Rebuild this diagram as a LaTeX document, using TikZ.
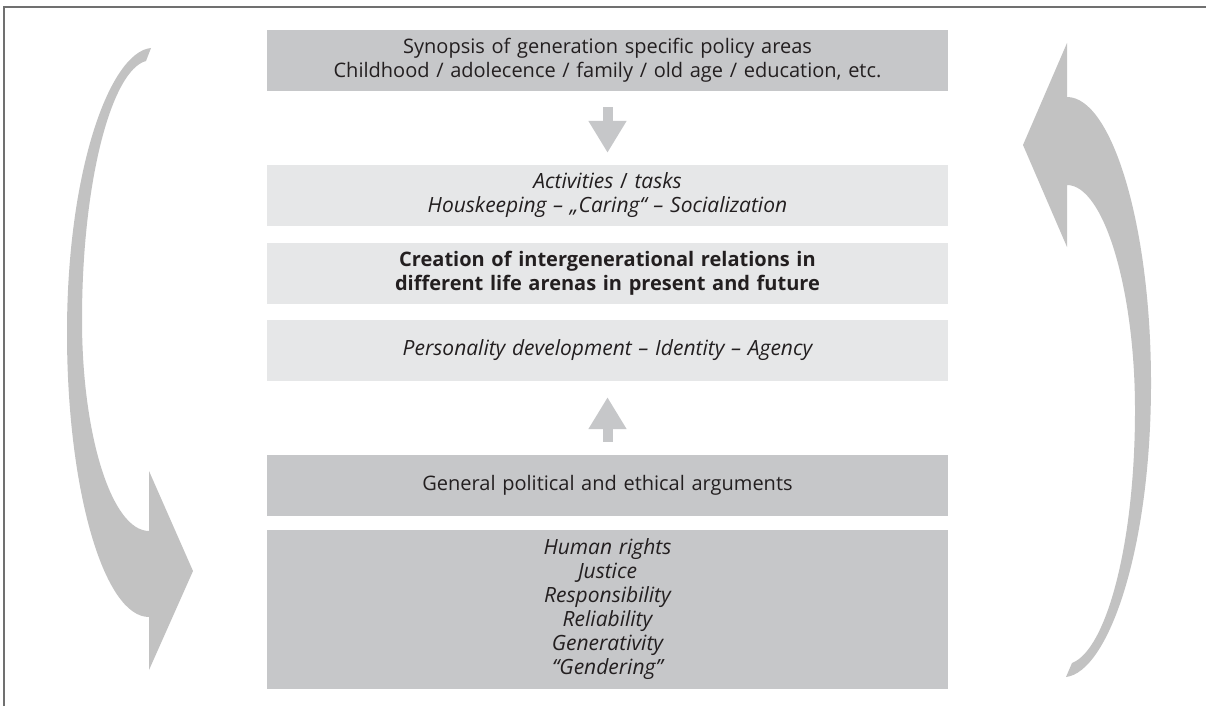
\documentclass[tikz,border=0pt]{standalone}
\usepackage{fontspec}
\setmainfont{Open Sans}
\usetikzlibrary{arrows.meta,calc}
\definecolor{darkbox}{HTML}{C6C7C9}
\definecolor{lightbox}{HTML}{E6E7E8}
\definecolor{arrowgray}{HTML}{C2C2C2}
\definecolor{smallarrow}{HTML}{C6C7C9}
\definecolor{txt}{HTML}{231F20}
\definecolor{framegray}{HTML}{707070}
\newcommand{\itx}{\fontsize{21}{24}\selectfont\itshape}
\begin{document}
\begin{tikzpicture}[x=1pt,y=-1pt,
  box/.style={inner sep=0pt, minimum width=681pt, text width=681pt, align=center,
    font=\fontsize{20}{24}\selectfont, text=txt},
  darkb/.style={box, fill=darkbox, minimum height=61pt},
  lightb/.style={box, fill=lightbox, minimum height=61pt},
  blockarrow/.style={smallarrow, line width=10pt, -{Triangle[length=32pt,width=36pt]}}]
\useasboundingbox (0,0) rectangle (1206,706);
\fill[white] (0,0) rectangle (1206,706);
% frame
\draw[framegray, line width=1.3pt] (4,706) -- (4,7) -- (1206,7);
% boxes
\node[darkb] (b1) at (607.5,60.5) {Synopsis of generation specific policy areas\\Childhood / adolecence / family / old age / education, etc.};
\node[lightb] (b2) at (607.5,195.5) {\itx Activities \upshape/\itshape{} tasks\\Houskeeping – „Caring“ – Socialization};
\node[lightb] (b3) at (607.5,273.5) {\bfseries Creation of intergenerational relations in\\different life arenas in present and future};
\node[lightb] (b4) at (607.5,350.5) {\itx Personality development – Identity – Agency};
\node[darkb] (b5) at (607.5,485.5) {General political and ethical arguments};
\node[darkb, minimum height=159pt] (b6) at (607.5,609.5) {\itx Human rights\\Justice\\Responsibility\\Reliability\\Generativity\\“Gendering”};
% small arrows
\draw[blockarrow] ($(b1.south)+(0,16)$) -- ($(b2.north)+(0,-12)$);
\draw[blockarrow] ($(b5.north)+(0,-13)$) -- ($(b4.south)+(0,16)$);
% big curved arrows
\fill[arrowgray] (151,48) .. controls (110,52) and (67,170) .. (67,333)
  .. controls (67,490) and (104,617) .. (149,617) -- (149,670) -- (193,571) -- (149,471) -- (149,531)
  .. controls (112,531) and (82,436) .. (82,320) .. controls (82,180) and (112,70) .. (146,61) -- cycle;
\fill[arrowgray] (1066,677) .. controls (1108,672) and (1151,550) .. (1151,383)
  .. controls (1151,226) and (1112,97) .. (1067,97) -- (1067,43) -- (1023,145) -- (1067,247) -- (1067,185)
  .. controls (1104,185) and (1135,290) .. (1135,410) .. controls (1135,545) and (1106,650) .. (1072,663) -- cycle;
\end{tikzpicture}
\end{document}
